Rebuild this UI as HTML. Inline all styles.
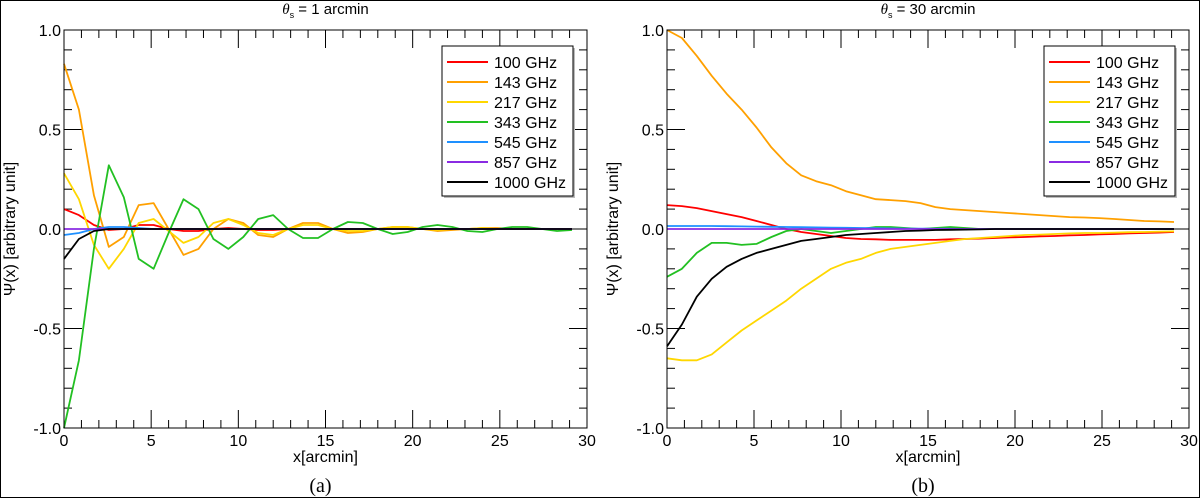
<!DOCTYPE html>
<html><head><meta charset="utf-8"><style>
html,body{margin:0;padding:0;background:#fff;}
svg{display:block;font-family:"Liberation Sans",sans-serif;}
</style></head><body>
<svg id="c" width="1200" height="498" viewBox="0 0 1200 498" xmlns="http://www.w3.org/2000/svg">
<rect x="0.5" y="0.5" width="1199" height="497" fill="#fff" stroke="#000" stroke-width="1"/>
</svg>
<script>
const labels = ["100 GHz","143 GHz","217 GHz","343 GHz","545 GHz","857 GHz","1000 GHz"];
const colors = ["#ff0000","#ffa000","#ffd700","#22c022","#1e90ff","#8a2be2","#000000"];
const xStep = 0.857;
const xTicks = [0,5,10,15,20,25,30];
const yTicks = [1.0,0.5,0.0,-0.5,-1.0];
const yTickLabels = ["1.0","0.5","0.0","-0.5","-1.0"];
const a100 = [0.1,0.07,0.02,-0.005,0,0.02,0.02,0,-0.01,-0.01,0,0.005,0,-0.005,-0.005,0,0,0,0,0,0,0,0,0,0,0,0,0,0,0,0,0,0,0,0];
const a143 = [0.83,0.6,0.17,-0.09,-0.04,0.12,0.13,0.0,-0.13,-0.1,0.0,0.05,0.03,-0.03,-0.04,0.0,0.03,0.03,0.0,-0.02,-0.015,0.0,0.01,0.01,0,-0.01,-0.005,0,0.005,0.005,0,0,0,0,0];
const a217 = [0.28,0.15,-0.08,-0.2,-0.1,0.03,0.05,-0.01,-0.07,-0.04,0.03,0.05,0.02,-0.02,-0.03,0.0,0.02,0.02,0,-0.01,-0.01,0,0.01,0.01,0,-0.005,0,0,0.005,0,0,0,0,0,0];
const a343 = [-1.0,-0.66,-0.1,0.32,0.16,-0.15,-0.2,-0.02,0.15,0.1,-0.05,-0.1,-0.04,0.05,0.07,0.0,-0.045,-0.045,0,0.035,0.03,0,-0.025,-0.015,0.01,0.02,0.01,-0.01,-0.015,0,0.01,0.01,0,-0.01,-0.005];
const a545 = [-0.03,-0.02,0.0,0.01,0.01,0.005,0,0,0,0,0,0,0,0,0,0,0,0,0,0,0,0,0,0,0,0,0,0,0,0,0,0,0,0,0];
const a857 = [0,0,0,0,0,0,0,0,0,0,0,0,0,0,0,0,0,0,0,0,0,0,0,0,0,0,0,0,0,0,0,0,0,0,0];
const a1000 = [-0.15,-0.05,-0.01,0,0,0,0,0,0,0,0,0,0,0,0,0,0,0,0,0,0,0,0,0,0,0,0,0,0,0,0,0,0,0,0];
const b100 = [0.12,0.115,0.105,0.09,0.075,0.06,0.04,0.02,0,-0.015,-0.025,-0.035,-0.045,-0.05,-0.052,-0.055,-0.055,-0.055,-0.055,-0.052,-0.05,-0.048,-0.045,-0.042,-0.04,-0.037,-0.035,-0.032,-0.03,-0.027,-0.025,-0.022,-0.02,-0.018,-0.015];
const b143 = [1.0,0.96,0.87,0.77,0.68,0.6,0.51,0.41,0.33,0.27,0.24,0.22,0.19,0.17,0.15,0.145,0.14,0.13,0.11,0.1,0.095,0.09,0.085,0.08,0.075,0.07,0.065,0.06,0.058,0.055,0.05,0.045,0.04,0.038,0.035];
const b217 = [-0.65,-0.66,-0.66,-0.63,-0.57,-0.51,-0.46,-0.41,-0.36,-0.3,-0.25,-0.2,-0.17,-0.15,-0.12,-0.1,-0.09,-0.08,-0.07,-0.06,-0.05,-0.045,-0.04,-0.035,-0.03,-0.028,-0.025,-0.022,-0.02,-0.02,-0.018,-0.016,-0.015,-0.013,-0.012];
const b343 = [-0.24,-0.2,-0.12,-0.07,-0.07,-0.08,-0.075,-0.04,-0.01,0,-0.01,-0.02,-0.01,0,0.01,0.01,0.005,0,0.005,0.01,0.005,0,0,0,0,0,0,0,0,0,0,0,0,0,0];
const b545 = [0.015,0.015,0.015,0.015,0.014,0.013,0.012,0.011,0.01,0.009,0.008,0.007,0.006,0.005,0.004,0.003,0.002,0.002,0.001,0.001,0,0,0,0,0,0,0,0,0,0,0,0,0,0,0];
const b857 = [0,0,0,0,0,0,0,0,0,0,0,0,0,0,0,0,0,0,0,0,0,0,0,0,0,0,0,0,0,0,0,0,0,0,0];
const b1000 = [-0.59,-0.48,-0.34,-0.25,-0.19,-0.15,-0.12,-0.1,-0.08,-0.06,-0.05,-0.04,-0.03,-0.025,-0.02,-0.015,-0.01,-0.008,-0.005,-0.004,-0.003,-0.002,0,0,0,0,0,0,0,0,0,0,0,0,0];
const seriesA = [a100,a143,a217,a343,a545,a857,a1000];
const seriesB = [b100,b143,b217,b343,b545,b857,b1000];

const NS="http://www.w3.org/2000/svg";
const svg=document.getElementById('c');
function mk(tag,attrs,parent,text){const e=document.createElementNS(NS,tag);for(const k in attrs)e.setAttribute(k,attrs[k]);if(text!==undefined)e.textContent=text;(parent||svg).appendChild(e);return e;}

function panel(id,L,R,T,B,series,title,cap){
  const g=mk('g',{});
  
  
  const sx=v=>L+(v-0)/30*(R-L);
  const sy=v=>T+(1-v)/2*(B-T);
  const tk=mk('g',{stroke:'#000','stroke-width':1},g);
  
  
  for(let i=0;i<=30;i++){
    const x=sx(i),len=(i%5===0)?18:8;
    mk('line',{x1:x,y1:B,x2:x,y2:B-len},tk);
    mk('line',{x1:x,y1:T,x2:x,y2:T+len},tk);
  }
  for(let j=0;j<=20;j++){
    const v=-1+j*0.1,y=sy(v),len=(j%5===0)?18:8;
    mk('line',{x1:L,y1:y,x2:L+len,y2:y},tk);
    mk('line',{x1:R,y1:y,x2:R-len,y2:y},tk);
  }
  series.forEach((s,k)=>{
    const pts=s.map((v,i)=>sx(i*xStep).toFixed(1)+','+sy(v).toFixed(1)).join(' ');
    const pl=mk('polyline',{points:pts,fill:'none',stroke:colors[k],'stroke-width':1.8,'stroke-linejoin':'round'},g);
    
    
  });
  mk('rect',{x:L,y:T,width:R-L,height:B-T,fill:'none',stroke:'#000','stroke-width':1},g);
  xTicks.forEach(v=>{
    const t=mk('text',{x:sx(v),y:B+18,'font-size':16,'text-anchor':'middle'},g,String(v));
    
    
  });
  yTicks.forEach((v,i)=>{
    const t=mk('text',{x:L-3,y:sy(v)+6,'font-size':16,'text-anchor':'end'},g,yTickLabels[i]);
    
    
  });
  const xl=mk('text',{x:(L+R)/2,y:B+34,'font-size':16,'text-anchor':'middle'},g,'x[arcmin]');
  
  
  const yl=mk('text',{x:0,y:0,'font-size':16,'text-anchor':'middle',transform:`translate(${L-49},${(T+B)/2}) rotate(-90)`},g,'Ψ(x) [arbitrary unit]');
  
  
  const tt=mk('text',{x:(L+R)/2,y:14,'font-size':15,'text-anchor':'middle'},g);
  
  
  mk('tspan',{'font-style':'italic','font-family':'Liberation Serif'},tt,'θ');
  mk('tspan',{'font-size':9,dy:4},tt,'s');
  mk('tspan',{dy:-4},tt,' = '+title);
  const cp=mk('text',{x:(L+R)/2-5,y:492,'font-size':20,'text-anchor':'middle','font-family':'Liberation Serif'},g,cap);
  
  
  const lg=mk('g',{},g);
  
  
  const lx=R-145;
  mk('rect',{x:lx+2,y:48,width:131,height:150,fill:'#bbb'},lg);
  mk('rect',{x:lx,y:46,width:131,height:150,fill:'#fff',stroke:'#000','stroke-width':1},lg);
  labels.forEach((lab,k)=>{
    const y=62+k*20;
    const e=mk('g',{},lg);
    
    
    mk('line',{x1:lx+5,y1:y,x2:lx+46,y2:y,stroke:colors[k],'stroke-width':2},e);
    mk('text',{x:lx+52,y:y+6,'font-size':16},e,lab);
  });
}
panel('panel-a',64,587,30,428,seriesA,'1 arcmin','(a)');
panel('panel-b',667,1189,30,428,seriesB,'30 arcmin','(b)');
</script>
</body></html>
